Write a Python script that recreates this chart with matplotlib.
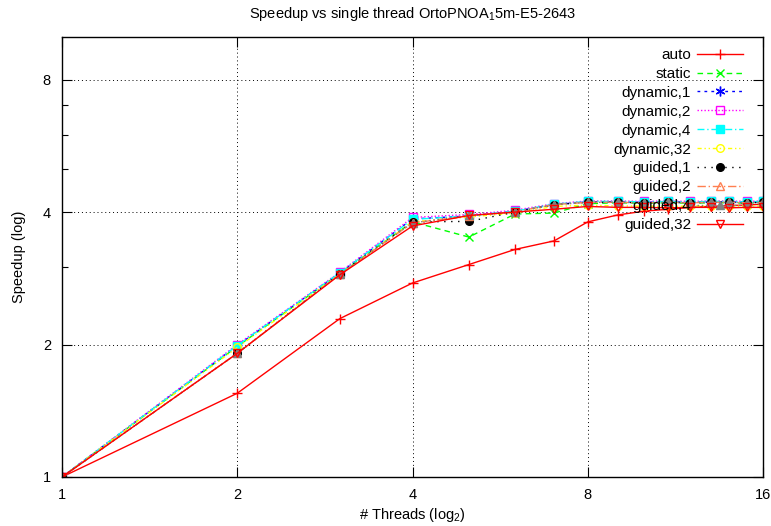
import numpy as np
import matplotlib
matplotlib.use("Agg")
import matplotlib.pyplot as plt
from matplotlib.ticker import FixedLocator, FixedFormatter, NullFormatter

plt.rcParams['font.family'] = ['Liberation Sans', 'DejaVu Sans']
plt.rcParams['mathtext.default'] = 'regular'

threads = np.arange(1, 17)

auto = [1, 1.55, 2.29, 2.76, 3.04, 3.29, 3.44, 3.80, 3.94, 4.02, 4.06, 4.10, 4.12, 4.14, 4.15, 4.17]
static = [1, 1.98, 2.90, 3.80, 3.51, 3.96, 3.98, 4.18, 4.20, 4.19, 4.20, 4.19, 4.20, 4.20, 4.19, 4.20]
dyn1 = [1, 1.99, 2.91, 3.86, 3.92, 4.02, 4.16, 4.22, 4.22, 4.21, 4.22, 4.21, 4.22, 4.22, 4.21, 4.22]
dyn2 = [1, 2.00, 2.92, 3.89, 3.95, 4.04, 4.18, 4.24, 4.24, 4.23, 4.24, 4.23, 4.24, 4.24, 4.23, 4.24]
dyn4 = [1, 1.99, 2.91, 3.85, 3.92, 4.02, 4.17, 4.23, 4.23, 4.22, 4.23, 4.22, 4.23, 4.23, 4.22, 4.23]
dyn32 = [1, 1.97, 2.89, 3.80, 3.90, 3.98, 4.12, 4.15, 4.13, 4.13, 4.12, 4.13, 4.13, 4.12, 4.13, 4.13]
guid1 = [1, 1.91, 2.90, 3.80, 3.81, 4.00, 4.16, 4.21, 4.21, 4.20, 4.21, 4.20, 4.21, 4.21, 4.20, 4.21]
guid2 = [1, 1.91, 2.89, 3.78, 3.92, 4.01, 4.16, 4.21, 4.21, 4.20, 4.21, 4.20, 4.21, 4.21, 4.20, 4.21]
guid4 = [1, 1.91, 2.89, 3.78, 3.93, 4.00, 4.16, 4.21, 4.21, 4.20, 4.21, 4.20, 4.21, 4.21, 4.20, 4.21]
guid32 = [1, 1.91, 2.88, 3.72, 3.93, 4.00, 4.06, 4.12, 4.10, 4.10, 4.09, 4.10, 4.10, 4.09, 4.10, 4.10]

labels = ["auto", "static", "dynamic,1", "dynamic,2", "dynamic,4", "dynamic,32",
          "guided,1", "guided,2", "guided,4", "guided,32"]
series = [auto, static, dyn1, dyn2, dyn4, dyn32, guid1, guid2, guid4, guid32]

styles = [
    dict(color='#ff0000', ls='-', marker='+', mfc='none', ms=7),
    dict(color='#00ff00', ls=(0, (4, 3)), marker='x', mfc='none', ms=6),
    dict(color='#0000ff', ls=(0, (2, 3)), marker=(6, 2, 0), mfc='none', ms=7),
    dict(color='#ff00ff', ls=(0, (1, 1.5)), marker='s', mfc='none', ms=5.5),
    dict(color='#00ffff', ls=(0, (5, 2, 1, 2)), marker='s', mfc='#00ffff', ms=5.5),
    dict(color='#ffff00', ls=(0, (3, 2, 1, 2, 1, 2)), marker='o', mfc='none', ms=5.5),
    dict(color='#000000', ls=(0, (1, 4)), marker='o', mfc='#000000', ms=5.5),
    dict(color='#ff7f50', ls=(0, (6, 2, 1, 2)), marker='^', mfc='none', ms=6),
    dict(color='#808080', ls=(0, (1, 2)), marker='^', mfc='#808080', ms=6),
    dict(color='#ff0000', ls='-', marker='v', mfc='none', ms=6),
]

fig = plt.figure(figsize=(7.71, 5.26), dpi=100)
ax = fig.add_axes([62/771, 49/526, (763-62)/771, (477-37)/526])

for y, lab, st in zip(series, labels, styles):
    ax.plot(threads, y, label=lab, lw=1.0, color=st['color'], ls=st['ls'],
            marker=st['marker'], mfc=st['mfc'], mec=st['color'], ms=st['ms'],
            mew=1.0)

ax.set_xscale('log', base=2)
ax.set_yscale('log', base=2)
ax.set_xlim(1, 16)
ax.set_ylim(1, 10)

ax.xaxis.set_major_locator(FixedLocator([1, 2, 4, 8, 16]))
ax.xaxis.set_major_formatter(FixedFormatter(['1', '2', '4', '8', '16']))
ax.xaxis.set_minor_locator(FixedLocator([]))
ax.yaxis.set_major_locator(FixedLocator([1, 2, 4, 8]))
ax.yaxis.set_major_formatter(FixedFormatter(['1', '2', '4', '8']))
ax.yaxis.set_minor_locator(FixedLocator([3, 5, 6, 7]))
ax.yaxis.set_minor_formatter(NullFormatter())

ax.tick_params(which='both', direction='in', top=True, right=True, labelsize=10.5)
ax.tick_params(which='major', length=7, width=0.8, pad=8)
ax.tick_params(which='minor', length=4, width=0.8)

ax.grid(True, which='major', color='black', ls=(0, (1, 3)), lw=0.7)
for s in ax.spines.values():
    s.set_linewidth(1.0)

ax.set_title("Speedup vs single thread OrtoPNOA$_1$5m-E5-2643", fontsize=10.5, pad=14)
ax.set_xlabel("# Threads (log$_2$)", fontsize=10.5, labelpad=3)
ax.set_ylabel("Speedup (log)", fontsize=10.5, labelpad=12)

ax.legend(loc='upper right', frameon=False, markerfirst=False, fontsize=11,
          handlelength=3.0, labelspacing=0.32, borderaxespad=0.9, handletextpad=0.4,
          bbox_to_anchor=(1.0, 1.02))

fig.savefig("out.png", dpi=100)
